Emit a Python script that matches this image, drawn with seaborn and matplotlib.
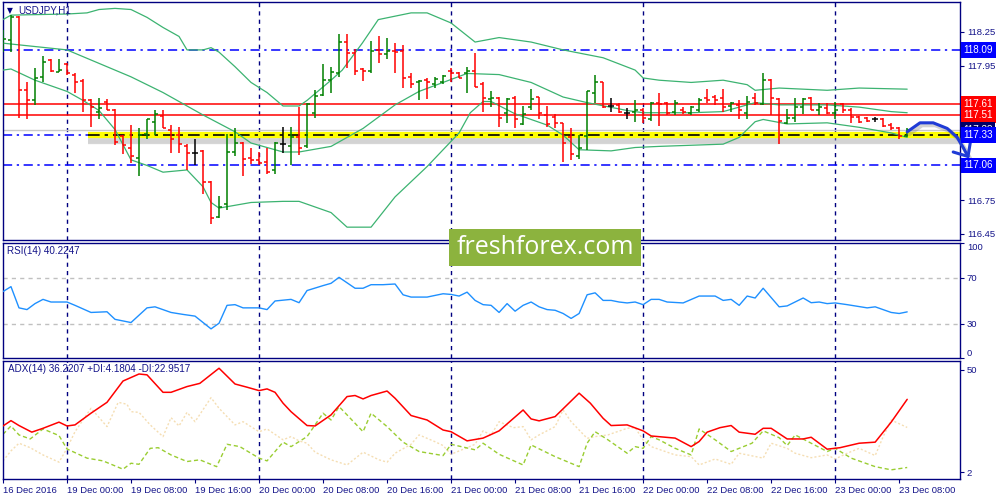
import matplotlib
matplotlib.use("Agg")
import matplotlib.pyplot as plt
import matplotlib.transforms as mtransforms
from matplotlib.patches import Rectangle
import numpy as np
import pandas as pd
import seaborn as sns

sns.set_theme(style="white")
plt.rcParams["font.family"] = ["Liberation Sans", "DejaVu Sans"]

# USDJPY H1, bar 0 = 16 Dec 16:00, one bar per hour
opens = [118.16, 118.18, 118.38, 117.73, 117.64, 117.85, 118.00, 117.89, 117.96, 117.87,
         117.81, 117.64, 117.54, 117.63, 117.55, 117.32, 117.22, 117.13, 117.34, 117.45,
         117.50, 117.38, 117.33, 117.23, 117.17, 117.19, 116.91, 116.60, 116.72, 117.18,
         117.26, 117.13, 117.11, 117.09, 117.02, 117.25, 117.23, 117.31, 117.23, 117.53,
         117.69, 117.82, 117.88, 118.16, 118.06, 117.92, 117.90, 118.09, 118.05, 118.08,
         118.08, 117.85, 117.80, 117.82, 117.79, 117.80, 117.90, 117.88, 117.88, 117.90,
         117.79, 117.65, 117.66, 117.53, 117.66, 117.43, 117.58, 117.67, 117.51, 117.49,
         117.44, 117.31, 117.14, 117.32, 117.71, 117.80, 117.59, 117.60, 117.53, 117.54,
         117.55, 117.47, 117.62, 117.62, 117.54, 117.55, 117.53, 117.55, 117.66, 117.67,
         117.66, 117.59, 117.60, 117.53, 117.66, 117.61, 117.82, 117.65, 117.44, 117.48,
         117.58, 117.66, 117.55, 117.57, 117.53, 117.61, 117.55, 117.49, 117.48, 117.47,
         117.47, 117.42, 117.39, 117.32]
highs = [118.27, 118.40, 118.39, 117.80, 117.93, 118.04, 118.01, 118.01, 117.97, 117.88,
         117.83, 117.65, 117.66, 117.65, 117.56, 117.33, 117.42, 117.39, 117.47, 117.55,
         117.55, 117.42, 117.40, 117.25, 117.30, 117.20, 116.92, 116.79, 117.34, 117.39,
         117.27, 117.22, 117.18, 117.22, 117.27, 117.40, 117.40, 117.58, 117.62, 117.73,
         117.96, 117.94, 118.23, 118.23, 118.10, 117.93, 118.17, 118.21, 118.20, 118.15,
         118.13, 117.88, 117.82, 117.84, 117.85, 117.87, 117.93, 117.89, 117.94, 118.06,
         117.80, 117.72, 117.67, 117.66, 117.68, 117.59, 117.74, 117.67, 117.59, 117.52,
         117.44, 117.39, 117.33, 117.72, 117.87, 117.80, 117.66, 117.62, 117.57, 117.64,
         117.57, 117.63, 117.71, 117.63, 117.64, 117.58, 117.59, 117.66, 117.74, 117.69,
         117.74, 117.63, 117.64, 117.68, 117.71, 117.88, 117.83, 117.66, 117.56, 117.66,
         117.66, 117.67, 117.62, 117.62, 117.63, 117.62, 117.57, 117.50, 117.49, 117.49,
         117.48, 117.44, 117.40, 117.39]
lows = [118.07, 118.07, 117.48, 117.47, 117.60, 117.80, 117.89, 117.89, 117.87, 117.71,
        117.54, 117.40, 117.47, 117.55, 117.24, 117.16, 117.08, 116.97, 117.30, 117.33,
        117.39, 117.17, 117.17, 117.02, 117.06, 116.81, 116.54, 116.59, 116.66, 117.14,
        116.97, 117.07, 117.06, 116.98, 116.98, 117.17, 117.06, 117.15, 117.22, 117.48,
        117.68, 117.71, 117.85, 117.93, 117.87, 117.81, 117.88, 117.97, 118.01, 117.88,
        117.75, 117.75, 117.64, 117.65, 117.75, 117.79, 117.80, 117.84, 117.71, 117.76,
        117.54, 117.58, 117.40, 117.44, 117.39, 117.42, 117.55, 117.47, 117.40, 117.39,
        117.09, 117.11, 117.12, 117.20, 117.62, 117.57, 117.54, 117.53, 117.47, 117.45,
        117.44, 117.46, 117.41, 117.51, 117.51, 117.52, 117.51, 117.54, 117.62, 117.60,
        117.54, 117.54, 117.47, 117.47, 117.60, 117.60, 117.51, 117.25, 117.43, 117.45,
        117.52, 117.55, 117.51, 117.52, 117.47, 117.53, 117.44, 117.44, 117.45, 117.45,
        117.40, 117.38, 117.30, 117.31]
closes = [118.19, 118.38, 117.73, 117.64, 117.84, 117.98, 117.90, 117.91, 117.88, 117.80,
          117.64, 117.58, 117.57, 117.55, 117.27, 117.24, 117.14, 117.33, 117.47, 117.52,
          117.39, 117.30, 117.25, 117.17, 117.17, 116.91, 116.59, 116.69, 117.18, 117.26,
          117.12, 117.11, 117.08, 117.00, 117.26, 117.25, 117.31, 117.22, 117.61, 117.68,
          117.82, 117.89, 118.16, 118.06, 117.90, 117.90, 118.08, 118.05, 118.08, 118.07,
          117.84, 117.79, 117.81, 117.80, 117.83, 117.86, 117.88, 117.84, 117.90, 117.76,
          117.66, 117.66, 117.48, 117.65, 117.47, 117.52, 117.65, 117.53, 117.43, 117.44,
          117.26, 117.16, 117.22, 117.72, 117.80, 117.58, 117.59, 117.54, 117.53, 117.55,
          117.48, 117.62, 117.61, 117.53, 117.62, 117.54, 117.58, 117.64, 117.64, 117.64,
          117.58, 117.62, 117.55, 117.63, 117.62, 117.82, 117.66, 117.46, 117.48, 117.58,
          117.65, 117.55, 117.58, 117.53, 117.55, 117.55, 117.49, 117.45, 117.46, 117.47,
          117.41, 117.39, 117.32, 117.38]

# Bollinger bands (20), sampled where the lines bend
bb_up_bars = [0, 1, 8, 10.5, 12, 14, 16, 18, 20, 22, 23, 25, 26, 27, 29, 31, 33, 35, 37, 38,
              41, 42.4, 44.9, 46.9, 51, 53, 56, 59, 62, 66, 70, 75, 79, 80, 82, 86, 90, 93, 94, 97,
              103, 107, 113]
bb_up = [118.36, 118.40, 118.41, 118.42, 118.45, 118.46, 118.45, 118.38, 118.29, 118.21,
         118.09, 118.09, 118.11, 118.07, 117.94, 117.80, 117.71, 117.59, 117.59, 117.64,
         117.82, 117.91, 118.15, 118.36, 118.42, 118.42, 118.33, 118.16, 118.20, 118.16,
         118.09, 118.02, 117.91, 117.84, 117.82, 117.80, 117.82, 117.78, 117.73, 117.75,
         117.73, 117.75, 117.74]
bb_mid_bars = [0, 8, 12, 16, 20, 25, 29, 31, 33, 35, 37, 41, 45, 49, 52, 58, 62, 66, 70, 73,
               78, 80, 86, 90, 94, 97, 103, 107, 111, 113]
bb_mid = [118.15, 118.09, 117.97, 117.85, 117.71, 117.51, 117.36, 117.26, 117.22, 117.18,
          117.18, 117.23, 117.39, 117.60, 117.72, 117.88, 117.87, 117.80, 117.67, 117.62,
          117.55, 117.53, 117.53, 117.54, 117.62, 117.60, 117.60, 117.58, 117.54, 117.53]
bb_lo_bars = [0, 1, 4, 8, 10, 12, 14, 16, 18, 20, 23, 25, 26, 27, 31, 35, 37, 41, 43, 46,
              49, 53, 57, 58.4, 60, 61, 64, 68, 70, 72, 76, 79, 82, 90, 92, 94, 95, 98, 103, 107,
              111, 113]
bb_lo = [117.91, 117.92, 117.82, 117.72, 117.64, 117.55, 117.38, 117.11, 117.06, 117.00,
         117.02, 116.87, 116.73, 116.68, 116.73, 116.74, 116.74, 116.64, 116.51, 116.51,
         116.78, 117.05, 117.35, 117.53, 117.63, 117.63, 117.52, 117.42, 117.33, 117.20,
         117.19, 117.22, 117.23, 117.25, 117.31, 117.45, 117.47, 117.43, 117.44, 117.40,
         117.35, 117.31]

# RSI(14)
rsi_bars = [0, 1, 2, 3, 4, 5, 6, 8, 9, 11, 13, 14, 16, 18, 19, 21, 22.5, 24, 26, 27, 28, 29,
            30, 32, 33, 34, 36, 37, 38, 40, 41, 42, 44, 45, 46, 47.5, 49, 50, 51, 53, 55, 56,
            57, 58, 59, 60, 61, 62, 63, 64, 65, 66, 67, 68, 69, 70, 71, 72, 73, 74, 75, 76, 77,
            78, 79, 80, 81, 82, 83, 85, 87, 89, 90, 91, 92, 93, 94, 95, 97, 98, 100, 101, 102,
            103, 104, 105.5, 108, 109, 111, 112, 113]
rsi_vals = [57.9, 62.2, 43.7, 42.2, 47.4, 51.1, 48.8, 48.8, 45.9, 39.7, 40.3, 33.7, 30.9,
            43.7, 44.6, 39.7, 38.0, 36.5, 25.4, 30.3, 45.9, 46.5, 43.7, 43.7, 42.2, 49.7,
            51.1, 48.2, 58.8, 63.1, 65.1, 70.3, 60.8, 60.8, 63.9, 63.9, 64.5, 55.1, 53.1,
            53.1, 56.0, 55.4, 54.0, 57.4, 50.2, 46.5, 45.9, 39.7, 47.4, 40.8, 45.9, 48.8,
            44.6, 42.2, 41.6, 38.8, 34.5, 38.8, 55.1, 56.8, 50.2, 50.2, 48.8, 48.0, 48.8,
            46.5, 51.1, 51.1, 48.8, 48.0, 54.0, 54.0, 50.2, 51.1, 45.9, 54.0, 52.3, 60.8,
            44.6, 45.4, 52.3, 48.2, 48.8, 47.4, 48.0, 46.5, 43.7, 44.6, 39.7, 38.8, 40.2]

# ADX(14) with +DI / -DI
adx_bars = [0, 1, 2, 3.6, 5, 7, 8, 9, 11, 13, 15, 17, 18, 20, 21, 23, 24.6, 27, 29, 30.5, 32,
            33, 34, 35, 36, 38, 39, 41, 43, 44, 45, 46, 48, 49, 51, 53, 55, 56, 58, 60, 62, 65,
            66, 67, 69, 72, 73.4, 75, 76, 78, 80, 81, 84, 86, 87, 88, 89.6, 91, 92, 94, 95, 96,
            98, 100, 101, 103, 104.6, 107, 109, 111, 113]
adx_vals = [23.7, 26.2, 23.9, 20.8, 22.6, 25.5, 23.7, 24.2, 29.7, 34.8, 44.8, 48.1, 47.7,
            39.5, 39.5, 42.2, 43.7, 50.8, 43.4, 41.9, 40.3, 41.1, 39.5, 34.4, 30.4, 23.9,
            23.7, 28.9, 37.5, 38.0, 36.4, 38.0, 40.1, 36.7, 28.6, 26.5, 21.8, 21.0, 16.7,
            18.0, 21.4, 31.2, 27.0, 26.1, 28.1, 39.1, 34.4, 27.3, 23.9, 24.2, 21.4, 19.0,
            18.0, 14.0, 16.4, 20.8, 22.9, 23.9, 20.8, 19.8, 22.6, 22.6, 17.6, 17.6, 18.4,
            12.8, 13.5, 15.6, 16.1, 25.5, 36.2]
pdi_bars = [0, 1, 2, 3.4, 5, 7, 8, 10.5, 12.5, 15, 16, 17, 18.4, 19.4, 21, 23, 24.6, 26.7, 28,
            29.6, 32, 33, 35, 36, 38, 40, 41, 42, 43, 45, 46, 48, 50, 52, 55, 56, 59, 60, 62,
            65, 66, 69, 72, 73, 74, 75.6, 78, 79, 80, 81, 82, 84, 86, 87, 89, 91, 93.6, 95, 97,
            98, 99, 101, 103, 104, 106, 109, 111, 113]
pdi_vals = [19.8, 23.7, 19.5, 17.6, 22.3, 19.2, 12.9, 8.6, 7.3, 3.4, 6.2, 5.7, 13.2, 13.5,
            10.1, 7.0, 7.8, 4.6, 15.1, 14.0, 8.6, 7.3, 16.1, 14.0, 18.7, 29.7, 26.5, 32.8,
            28.9, 21.0, 29.7, 23.4, 16.1, 11.7, 9.8, 15.1, 12.5, 15.6, 10.4, 5.4, 14.8, 9.3,
            4.6, 15.6, 21.0, 17.2, 10.9, 14.0, 13.2, 18.7, 17.2, 13.2, 10.1, 22.3, 17.2,
            11.7, 15.6, 21.4, 18.2, 14.5, 19.5, 15.6, 11.7, 13.2, 8.6, 4.6, 3.1, 4.2]
mdi_bars = [0, 1, 2, 3.4, 5, 7, 8, 9, 11, 13, 14.4, 15.5, 16, 17, 18.4, 20, 21, 22, 23, 24, 26,
            27, 29, 30, 32, 33, 35, 36, 37, 38, 39, 41, 43, 45, 47, 48, 49, 51, 52, 54, 55, 56,
            59, 60, 61, 62, 63.8, 65, 66, 67, 69, 70, 71, 72, 73, 74, 75.6, 78, 79, 80, 81, 84,
            86, 87, 89, 91, 92, 95, 96, 98, 99, 101, 103, 104, 105.5, 107, 109, 110, 111, 113]
mdi_vals = [7.3, 12.0, 15.6, 13.5, 10.1, 6.7, 13.2, 21.0, 32.0, 23.4, 34.8, 33.9, 30.4, 30.1,
            24.2, 18.7, 27.6, 23.7, 30.1, 25.7, 37.0, 32.0, 24.2, 25.7, 21.0, 22.3, 17.2,
            18.7, 16.7, 15.6, 11.4, 7.8, 5.4, 11.4, 7.8, 6.7, 10.9, 15.1, 19.5, 16.3, 14.5,
            10.4, 15.1, 21.4, 19.5, 25.7, 22.9, 23.4, 17.2, 19.5, 23.4, 31.2, 25.7, 21.8,
            17.9, 18.7, 19.5, 22.6, 22.9, 17.2, 14.0, 10.1, 9.3, 5.4, 8.2, 5.7, 10.9, 8.6,
            15.6, 13.2, 10.9, 8.8, 10.1, 8.2, 10.9, 13.2, 9.8, 18.7, 26.5, 23.0]

# levels drawn on the chart
support_lines = [118.09, 117.06]
red_lines = [117.61, 117.51]
key_level = 117.33
bid_price = 117.38
key_level_start = 10.6
day_bars = [8, 32, 56, 80, 104]
tick_bars = [0, 8, 16, 24, 32, 40, 48, 56, 64, 72, 80, 88, 96, 104, 112]
tick_labels = ["16 Dec 2016", "19 Dec 00:00", "19 Dec 08:00", "19 Dec 16:00", "20 Dec 00:00",
               "20 Dec 08:00", "20 Dec 16:00", "21 Dec 00:00", "21 Dec 08:00", "21 Dec 16:00",
               "22 Dec 00:00", "22 Dec 08:00", "22 Dec 16:00", "23 Dec 00:00", "23 Dec 08:00"]
price_ticks = [118.25, 117.95, 117.65, 117.35, 117.05, 116.75, 116.45]
# hand drawn forecast arrow (bar index, price)
arrow_x = [113, 114.6, 116.25, 118, 119.25, 120, 120.6]
arrow_y = [117.36, 117.44, 117.44, 117.39, 117.31, 117.22, 117.14]
head_x = [120.9, 120.6, 118.75]
head_y = [117.27, 117.14, 117.18]

NAVY = "#000080"
TXT = "#14148a"
FS = 6.8
XLIM = (-0.06, 119.6)

fig = plt.figure(figsize=(10, 5), dpi=100)
fig.patch.set_facecolor("white")
ax_p = fig.add_axes([2.5 / 1000, 1 - 239.5 / 500, 957.5 / 1000, 237.5 / 500])
ax_r = fig.add_axes([2.5 / 1000, 1 - 358 / 500, 957.5 / 1000, 115.3 / 500])
ax_a = fig.add_axes([2.5 / 1000, 1 - 479 / 500, 957.5 / 1000, 118 / 500])

for ax in (ax_p, ax_r, ax_a):
    ax.set_facecolor("white")
    ax.set_xlim(*XLIM)
    for sp in ax.spines.values():
        sp.set_color(NAVY)
        sp.set_linewidth(1.0)
    for b in day_bars:
        ax.axvline(b, color=NAVY, lw=1.0, ls=(0, (3, 3)), zorder=1)
    ax.yaxis.tick_right()
    ax.tick_params(axis="y", direction="out", length=3, width=0.8, colors=NAVY,
                   labelsize=FS, pad=2, labelcolor=TXT, left=False, right=True)
    ax.set_xlabel("")
    ax.set_ylabel("")

# ---- price panel ----
ax_p.set_ylim(116.40, 118.517)
ax_p.set_yticks(price_ticks)
ax_p.set_yticklabels([f"{v:.2f}" for v in price_ticks])
ax_p.set_xticks([])

for lvl in support_lines + [key_level]:
    ax_p.axhline(lvl, color="#0000ff", lw=1.1, ls=(0, (6, 3, 1.5, 3)), zorder=2)
for lvl in red_lines:
    ax_p.axhline(lvl, color="#ff0000", lw=1.1, zorder=2)
ax_p.axhline(bid_price, color="#c8c8c8", lw=1.0, zorder=1.5)
ax_p.hlines(key_level - 0.04, key_level_start, XLIM[1], color="#9a9a9a", lw=6, alpha=0.3, zorder=2)
ax_p.hlines(key_level - 0.055, key_level_start, XLIM[1], color="#b0b0b0", lw=4, alpha=0.25, zorder=2)
ax_p.hlines(key_level, key_level_start, XLIM[1], color="#ffff00", lw=4.5, zorder=2.2)
ax_p.hlines(key_level, key_level_start, XLIM[1], color="black", lw=1.2,
            linestyles=[(0, (7, 3, 2, 3))], zorder=2.3)

for bars, vals in ((bb_up_bars, bb_up), (bb_mid_bars, bb_mid), (bb_lo_bars, bb_lo)):
    sns.lineplot(x=bars, y=vals, ax=ax_p, color="#3cb371", lw=0.9, legend=False, zorder=3)

bars_df = pd.DataFrame({"open": opens, "high": highs, "low": lows, "close": closes})
bars_df["x"] = np.arange(len(bars_df))
bar_colors = np.where(bars_df["close"] > bars_df["open"], "#008000",
                      np.where(bars_df["close"] < bars_df["open"], "#ff0000", "#000000"))
ax_p.vlines(bars_df["x"], bars_df["low"], bars_df["high"], colors=bar_colors, lw=1.1, zorder=4)
ax_p.hlines(bars_df["open"], bars_df["x"] - 0.35, bars_df["x"], colors=bar_colors, lw=1.1, zorder=4)
ax_p.hlines(bars_df["close"], bars_df["x"], bars_df["x"] + 0.35, colors=bar_colors, lw=1.1, zorder=4)

# forecast arrow with a soft shadow
ax_p.plot(np.array(arrow_x) + 0.25, np.array(arrow_y) - 0.02, color="#808080", lw=3.2,
          alpha=0.35, clip_on=False, zorder=8, solid_capstyle="round")
ax_p.plot(arrow_x, arrow_y, color="#1f3bd6", lw=2.2, clip_on=False, zorder=9,
          solid_capstyle="round", solid_joinstyle="round")
ax_p.plot(head_x, head_y, color="#1f3bd6", lw=2.2, clip_on=False, zorder=9,
          solid_capstyle="round", solid_joinstyle="round")

ytrans = mtransforms.blended_transform_factory(ax_p.transAxes, ax_p.transData)


def price_tag(y, color, z):
    ax_p.text(1.0035, y, f"{y:.2f}", transform=ytrans, ha="left", va="center", color="white",
              fontsize=FS + 0.3, zorder=z, clip_on=False,
              bbox=dict(boxstyle="square,pad=0.28", fc=color, ec="none"))


price_tag(118.09, "#0000ff", 10)
price_tag(117.61, "#ff0000", 10)
price_tag(117.51, "#ff0000", 10)
price_tag(bid_price, "#000066", 10)
price_tag(key_level, "#0000ff", 11)
price_tag(117.06, "#0000ff", 10)

ax_p.text(0.0073, 0.966, "▼", transform=ax_p.transAxes, fontsize=5.5, color=NAVY,
          ha="center", va="center", family=["DejaVu Sans"])
ax_p.text(0.0162, 0.966, "USDJPY,H1", transform=ax_p.transAxes, fontsize=FS + 0.3,
          color=TXT, ha="left", va="center")

# ---- RSI panel ----
ax_r.set_ylim(0, 100.5)
ax_r.set_xticks([])
ax_r.axhline(70, color="#c0c0c0", lw=1.0, ls=(0, (3, 3)), zorder=1)
ax_r.axhline(30, color="#c0c0c0", lw=1.0, ls=(0, (3, 3)), zorder=1)
sns.lineplot(x=rsi_bars, y=rsi_vals, ax=ax_r, color="#1e90ff", lw=1.0, legend=False, zorder=3)
ax_r.set_yticks([100, 70, 30, 0])
ax_r.set_yticklabels(["100", "70", "30", "0"])
labs = ax_r.get_yticklabels()
labs[0].set_va("top")
labs[-1].set_va("bottom")
ax_r.text(0.0047, 0.928, "RSI(14) 40.2247", transform=ax_r.transAxes, fontsize=FS + 0.3,
          color=TXT, ha="left", va="center")

# ---- ADX panel ----
ax_a.set_ylim(-1.2, 54.2)
sns.lineplot(x=mdi_bars, y=mdi_vals, ax=ax_a, color="#f5deb3", lw=1.0, legend=False, zorder=2)
ax_a.lines[-1].set_linestyle((0, (1.5, 1.5)))
sns.lineplot(x=pdi_bars, y=pdi_vals, ax=ax_a, color="#9acd32", lw=1.0, legend=False, zorder=2)
ax_a.lines[-1].set_linestyle((0, (3, 2)))
sns.lineplot(x=adx_bars, y=adx_vals, ax=ax_a, color="#ff0000", lw=1.1, legend=False, zorder=3)
ax_a.set_yticks([50, 2])
ax_a.set_yticklabels(["50", "2"])
ax_a.set_xticks(tick_bars)
ax_a.set_xticklabels(tick_labels, ha="left")
ax_a.tick_params(axis="x", direction="out", length=3, width=0.8, colors=NAVY,
                 labelsize=FS, pad=2, labelcolor=TXT, bottom=True)
ax_a.text(0.0057, 0.932, "ADX(14) 36.2207 +DI:4.1804 -DI:22.9517", transform=ax_a.transAxes,
          fontsize=FS + 0.3, color=TXT, ha="left", va="center")

# watermark
fig.patches.append(Rectangle((449 / 1000, 1 - 266 / 500), 192 / 1000, 37 / 500,
                             transform=fig.transFigure, facecolor="#8cb33e", edgecolor="none",
                             zorder=20))
fig.text(545 / 1000, 1 - 247.5 / 500, "freshforex.com", color="white", fontsize=18,
         ha="center", va="center", family=["Open Sans", "DejaVu Sans"], zorder=21)

fig.savefig("out.png", dpi=100)
